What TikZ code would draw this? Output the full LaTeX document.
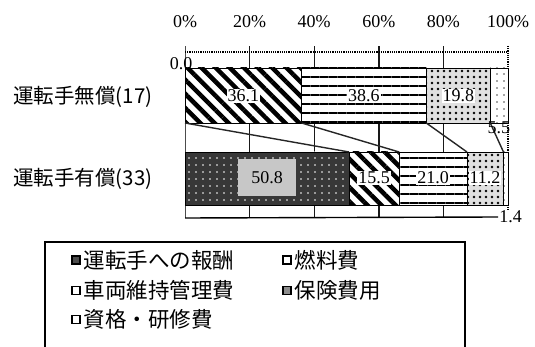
\documentclass[tikz,border=0pt]{standalone}
\usepackage{fontspec}
\setmainfont{Liberation Serif}
\newfontfamily\cjk{Noto Sans CJK JP}
\usetikzlibrary{patterns.meta, positioning}

\begin{document}
\begin{tikzpicture}[x=1pt,y=-1pt,
    num/.style={font=\fontsize{18}{18}\selectfont, inner sep=1pt},
    inbar/.style={num, fill=white},
    row/.style={font=\cjk\fontsize{20.5}{20.5}\selectfont, anchor=west, inner sep=0pt},
    key/.style={draw=black, line width=1.2pt, minimum size=8pt, inner sep=0pt},
    keytxt/.style={font=\cjk\fontsize{21.5}{21.5}\selectfont, inner sep=0pt},
    seg/.style={draw=black, line width=0.9pt},
    gridbar/.style={fill=black!90},
    series/.style={line width=1.4pt, black!85},
    pay/.style={seg, preaction={fill=black!78}, pattern={Dots[radius=0.9pt,distance=7pt]}, pattern color=white},
    fuel/.style={seg, preaction={fill=white}, pattern={Lines[angle=-45,distance=10pt,line width=4.5pt]}},
    car/.style={seg, preaction={fill=white}, pattern={Lines[angle=0,distance=9pt,line width=2.5pt]}},
    ins/.style={seg, preaction={fill=black!12}, pattern={Dots[radius=1.3pt,distance=6pt]}},
    lic/.style={seg, preaction={fill=white}, pattern={Dots[radius=0.8pt,distance=7pt]}, pattern color=black!70}]
  \useasboundingbox (0,0) rectangle (535,347);
  % grid, as thin bars
  \foreach \g in {249.6,314.2,378.8,443.4}
    \fill[gridbar] (\g-0.7,46) rectangle (\g+0.7,218);
  \fill[black!70] (184.5,46) rectangle (185.5,218);
  \draw[densely dotted, line width=1.2pt, black] (508,46) -- (508,218);
  % row labels
  \node[row] (r1) at (13,97) {運転手無償(17)};
  \node[row] (r2) at (13,179) {運転手有償(33)};
  \begin{scope}[xshift=185pt, x=3.23pt]
    \draw[densely dotted, line width=1.2pt] (0,52) -- (100,52);
    \foreach \p in {0,20,...,100}
      \node[num] (p\p) at (\p,22) {\p\%};
    % first bar
    \draw[fuel] (0,68) rectangle (36.1,123);
    \draw[car] (36.1,68) rectangle (74.7,123);
    \draw[ins] (74.7,68) rectangle (94.5,123);
    \draw[lic] (94.5,68) rectangle (100,123);
    % second bar
    \draw[pay] (0,152) rectangle (50.8,205);
    \draw[fuel] (50.8,152) rectangle (66.3,205);
    \draw[car] (66.3,152) rectangle (87.3,205);
    \draw[ins] (87.3,152) rectangle (98.6,205);
    \draw[lic] (98.6,152) rectangle (100,205);
    % series lines
    \coordinate (u0) at (0,123);
    \coordinate (u1) at (36.1,123);
    \coordinate (u2) at (74.7,123);
    \coordinate (u3) at (94.5,123);
    \coordinate (l0) at (50.8,152);
    \coordinate (l1) at (66.3,152);
    \coordinate (l2) at (87.3,152);
    \coordinate (l3) at (98.6,152);
    \foreach \i in {0,...,3}
      \draw[series] (u\i) -- (l\i);
    % values
    \node[num] (v00) at (-1.2,64) {0.0};
    \node[inbar] (v361) at (18.05,96) {36.1};
    \node[inbar] (v386) at (55.4,96) {38.6};
    \node[inbar] (v198) at (84.6,96) {19.8};
    \node[num] (v55) at (97.2,128) {5.5};
    \node[num, fill=black!22, minimum width=58pt, minimum height=37pt] (v508) at (25.4,178) {50.8};
    \node[inbar] (v155) at (58.55,178) {15.5};
    \node[inbar] (v210) at (76.8,178) {21.0};
    \node[inbar] (v112) at (92.9,178) {11.2};
    \node[num, fill=white] (v14) at (100.8,217) {1.4};
    \draw[line width=1.4pt] (0,218) -- (v14.west);
  \end{scope}
  % legend
  \draw[line width=1.3pt] (45,347) -- (45,242) -- (465,242) -- (465,347);
  \node[key, fill=black!70] (k1) at (76,260) {};
  \node[keytxt, right=3pt of k1] (t1) {運転手への報酬};
  \node[key] (k2) at (287,260) {};
  \node[keytxt, right=3pt of k2] (t2) {燃料費};
  \node[key] (k3) [below=21pt of k1] {};
  \node[keytxt, right=3pt of k3] (t3) {車両維持管理費};
  \node[key, fill=black!45] (k4) [below=21pt of k2] {};
  \node[keytxt, right=3pt of k4] (t4) {保険費用};
  \node[key] (k5) [below=20pt of k3] {};
  \node[keytxt, right=3pt of k5] (t5) {資格・研修費};
\end{tikzpicture}
\end{document}
